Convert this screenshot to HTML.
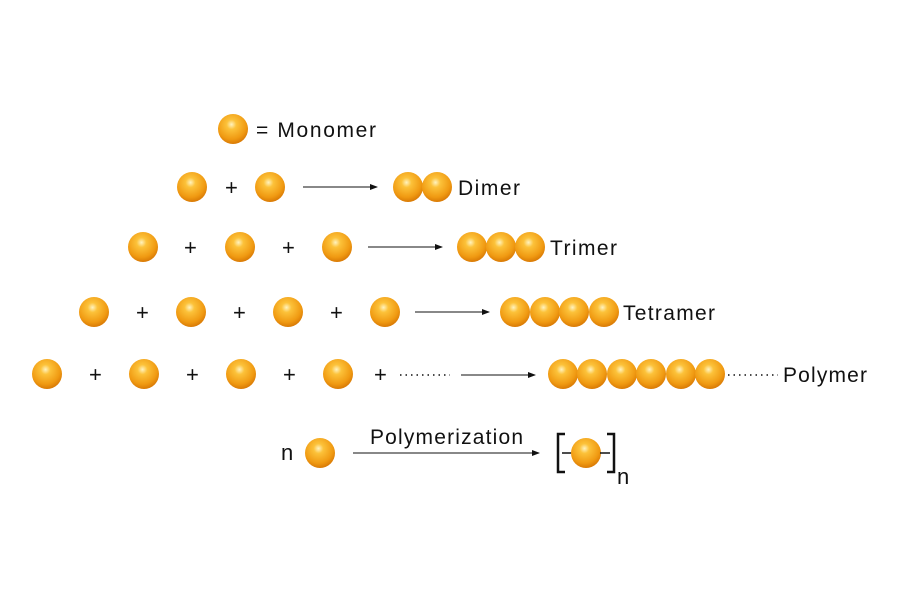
<!DOCTYPE html>
<html><head><style>body{margin:0;background:#fff}svg{display:block}text{font-family:"Liberation Sans",sans-serif;fill:#111}</style></head><body>
<svg width="900" height="600" viewBox="0 0 900 600">
<defs>
<radialGradient id="g" cx="0.45" cy="0.35" r="0.65">
<stop offset="0" stop-color="#fff3c0"/><stop offset="0.25" stop-color="#fcc23a"/><stop offset="0.75" stop-color="#f09a12"/><stop offset="1" stop-color="#d97a05"/>
</radialGradient>
<marker id="a" markerWidth="8" markerHeight="6" refX="7" refY="3" orient="auto"><path d="M0,0 L8,3 L0,6z" fill="#111"/></marker>
<symbol id="b" viewBox="-15 -15 30 30" overflow="visible"><circle r="15" fill="url(#g)"/></symbol>
</defs>
<g font-size="21">
<use href="#b" x="218" y="114" width="30" height="30"/>
<text x="256" y="137" textLength="120" lengthAdjust="spacing">= Monomer</text>
<!-- row2 -->
<use href="#b" x="177" y="172" width="30" height="30"/><use href="#b" x="255" y="172" width="30" height="30"/>
<text x="225" y="195" font-size="22">+</text>
<line x1="303" y1="187" x2="377" y2="187" stroke="#111" marker-end="url(#a)"/>
<use href="#b" x="393" y="172" width="30" height="30"/><use href="#b" x="422" y="172" width="30" height="30"/>
<text x="458" y="195" textLength="62" lengthAdjust="spacing">Dimer</text>
<!-- row3 -->
<use href="#b" x="128" y="232" width="30" height="30"/><use href="#b" x="225" y="232" width="30" height="30"/><use href="#b" x="322" y="232" width="30" height="30"/>
<text x="184" y="255" font-size="22">+</text><text x="282" y="255" font-size="22">+</text>
<line x1="368" y1="247" x2="442" y2="247" stroke="#111" marker-end="url(#a)"/>
<use href="#b" x="457" y="232" width="30" height="30"/><use href="#b" x="486" y="232" width="30" height="30"/><use href="#b" x="515" y="232" width="30" height="30"/>
<text x="550" y="255" textLength="67" lengthAdjust="spacing">Trimer</text>
<!-- row4 -->
<use href="#b" x="79" y="297" width="30" height="30"/><use href="#b" x="176" y="297" width="30" height="30"/><use href="#b" x="273" y="297" width="30" height="30"/><use href="#b" x="370" y="297" width="30" height="30"/>
<text x="136" y="320" font-size="22">+</text><text x="233" y="320" font-size="22">+</text><text x="330" y="320" font-size="22">+</text>
<line x1="415" y1="312" x2="489" y2="312" stroke="#111" marker-end="url(#a)"/>
<use href="#b" x="500" y="297" width="30" height="30"/><use href="#b" x="530" y="297" width="30" height="30"/><use href="#b" x="559" y="297" width="30" height="30"/><use href="#b" x="589" y="297" width="30" height="30"/>
<text x="623" y="320" textLength="92" lengthAdjust="spacing">Tetramer</text>
<!-- row5 -->
<use href="#b" x="32" y="359" width="30" height="30"/><use href="#b" x="129" y="359" width="30" height="30"/><use href="#b" x="226" y="359" width="30" height="30"/><use href="#b" x="323" y="359" width="30" height="30"/>
<text x="89" y="382" font-size="22">+</text><text x="186" y="382" font-size="22">+</text><text x="283" y="382" font-size="22">+</text><text x="374" y="382" font-size="22">+</text>
<line x1="400" y1="375" x2="450" y2="375" stroke="#111" stroke-width="1.5" stroke-dasharray="1.5,4"/>
<line x1="461" y1="375" x2="535" y2="375" stroke="#111" marker-end="url(#a)"/>
<use href="#b" x="548" y="359" width="30" height="30"/><use href="#b" x="577" y="359" width="30" height="30"/><use href="#b" x="607" y="359" width="30" height="30"/><use href="#b" x="636" y="359" width="30" height="30"/><use href="#b" x="666" y="359" width="30" height="30"/><use href="#b" x="695" y="359" width="30" height="30"/>
<line x1="728" y1="375" x2="778" y2="375" stroke="#111" stroke-width="1.5" stroke-dasharray="1.5,4"/>
<text x="783" y="382" textLength="84" lengthAdjust="spacing">Polymer</text>
<!-- row6 -->
<text x="281" y="460" font-size="22">n</text>
<use href="#b" x="305" y="438" width="30" height="30"/>
<text x="370" y="444" textLength="153" lengthAdjust="spacing">Polymerization</text>
<line x1="353" y1="453" x2="539" y2="453" stroke="#111" marker-end="url(#a)"/>
<path d="M565,434 H558 V472 H565" fill="none" stroke="#111" stroke-width="2.5"/>
<line x1="562" y1="453" x2="572" y2="453" stroke="#111" stroke-width="1.5"/>
<use href="#b" x="571" y="438" width="30" height="30"/>
<line x1="600" y1="453" x2="610" y2="453" stroke="#111" stroke-width="1.5"/>
<path d="M607,434 H614 V472 H607" fill="none" stroke="#111" stroke-width="2.5"/>
<text x="617" y="484" font-size="22">n</text>
</g>
</svg>
</body></html>
